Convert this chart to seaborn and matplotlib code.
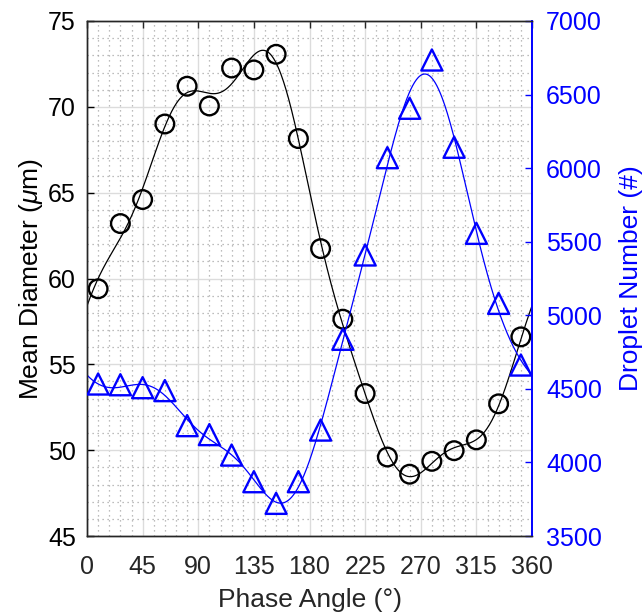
import numpy as np
import pandas as pd
import matplotlib
matplotlib.use("Agg")
import matplotlib.pyplot as plt
import seaborn as sns
from matplotlib.ticker import MultipleLocator

# ---- data ----
phase = [9, 27, 45, 63, 81, 99, 117, 135, 153, 171,
         189, 207, 225, 243, 261, 279, 297, 315, 333, 351]
diameter = [59.4, 63.2, 64.6, 69.0, 71.2, 70.05, 72.26, 72.15, 73.06, 68.15,
            61.74, 57.63, 53.3, 49.6, 48.6, 49.35, 49.97, 50.6, 52.7, 56.6]
droplets = [4533, 4528, 4508, 4488, 4250, 4189, 4050, 3869, 3722, 3869,
            4220, 4837, 5410, 6071, 6407, 6735, 6142, 5557, 5081, 4662]

x_ticks = [0, 45, 90, 135, 180, 225, 270, 315, 360]
left_ticks = [45, 50, 55, 60, 65, 70, 75]
right_ticks = [3500, 4000, 4500, 5000, 5500, 6000, 6500, 7000]


def fourier_fit(x, y, order, xs):
    th = np.deg2rad(np.asarray(x, float))
    ths = np.deg2rad(xs)
    def basis(t):
        cols = [np.ones_like(t)]
        for k in range(1, order + 1):
            cols += [np.cos(k * t), np.sin(k * t)]
        return np.column_stack(cols)
    coef, *_ = np.linalg.lstsq(basis(th), np.asarray(y, float), rcond=None)
    return basis(ths) @ coef


xs = np.linspace(0, 360, 721)
fit_d = pd.DataFrame({"phase": xs, "val": fourier_fit(phase, diameter, 5, xs)})
fit_n = pd.DataFrame({"phase": xs, "val": fourier_fit(phase, droplets, 5, xs)})
pts_d = pd.DataFrame({"phase": phase, "val": diameter})
pts_n = pd.DataFrame({"phase": phase, "val": droplets})

sns.set_style("white")
plt.rcParams["font.family"] = ["Liberation Sans", "DejaVu Sans"]
plt.rcParams["mathtext.fontset"] = "custom"
plt.rcParams["mathtext.it"] = "Liberation Sans:italic"
plt.rcParams["mathtext.rm"] = "Liberation Sans"

dark = "#262626"
blue = "#0000ff"

fig = plt.figure(figsize=(6.43, 6.15), dpi=100)
ax = fig.add_axes([87 / 643, 1 - 536 / 615, 445 / 643, 515 / 615])
ax2 = ax.twinx()

# grid on left axis
ax.set_axisbelow(True)
ax.xaxis.set_major_locator(MultipleLocator(45))
ax.xaxis.set_minor_locator(MultipleLocator(9))
ax.yaxis.set_minor_locator(MultipleLocator(1))
ax.grid(True, which="major", color="#dcdcdc", linewidth=1.0, linestyle="-")
ax.grid(True, which="minor", color="#a8a8a8", linewidth=0.9, linestyle=(0, (1, 3)))

sns.lineplot(data=fit_d, x="phase", y="val", ax=ax, color="black", linewidth=0.9)
sns.scatterplot(data=pts_d, x="phase", y="val", ax=ax, marker="o", s=180,
                facecolor="none", edgecolor="black", linewidth=1.7, zorder=3)

sns.lineplot(data=fit_n, x="phase", y="val", ax=ax2, color=blue, linewidth=0.9)
sns.scatterplot(data=pts_n, x="phase", y="val", ax=ax2, marker="^", s=230,
                facecolor="none", edgecolor=blue, linewidth=1.7, zorder=3)

ax.set_xlim(0, 360)
ax.set_ylim(45, 75)
ax2.set_ylim(3500, 7000)
ax.set_xticks(x_ticks)
ax.set_yticks(left_ticks)
ax2.set_yticks(right_ticks)

ax.set_xlabel("Phase Angle (°)", fontsize=19, color=dark, labelpad=6)
ax.set_ylabel(r"Mean Diameter ($\mu$m)", fontsize=19, color="black", labelpad=2)
ax2.set_ylabel("Droplet Number (#)", fontsize=19, color=blue, labelpad=12)

ax.tick_params(axis="x", which="major", direction="in", length=5, width=1,
               labelsize=18, colors=dark, top=True, pad=14)
ax.tick_params(axis="y", which="major", direction="in", length=5, width=1,
               labelsize=18, colors="black", right=False, pad=8)
ax.tick_params(which="minor", length=0)
ax2.tick_params(axis="y", which="major", direction="in", length=5, width=1,
                labelsize=18, colors=blue, pad=10)
ax2.tick_params(which="minor", length=0)

for name in ["left", "bottom", "top"]:
    ax.spines[name].set_color(dark)
    ax.spines[name].set_linewidth(1.0)
    ax2.spines[name].set_color(dark)
    ax2.spines[name].set_linewidth(1.0)
ax2.spines["right"].set_color(blue)
ax2.spines["right"].set_linewidth(1.4)
ax.spines["right"].set_visible(False)

fig.savefig("out.png", dpi=100)
